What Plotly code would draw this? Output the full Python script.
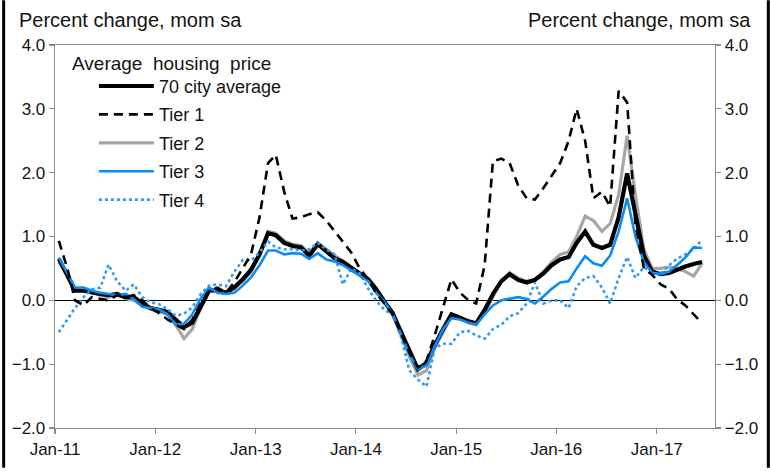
import pandas as pd
import plotly.graph_objects as go

# Monthly data, Jan-2011 .. Jun-2017 (plotted mid-month)
months = pd.date_range("2011-01-01", "2017-06-01", freq="MS") + pd.Timedelta(days=14)

avg70 = [0.65, 0.40, 0.15, 0.15, 0.12, 0.10, 0.08, 0.10, 0.05, 0.05, -0.05, -0.12,
         -0.15, -0.18, -0.30, -0.42, -0.35, -0.10, 0.15, 0.16, 0.12, 0.20, 0.33, 0.48,
         0.72, 1.05, 1.02, 0.90, 0.85, 0.83, 0.70, 0.88, 0.76, 0.66, 0.60, 0.52,
         0.42, 0.33, 0.18, -0.02, -0.20, -0.50, -0.80, -1.08, -0.98, -0.70, -0.45, -0.22,
         -0.27, -0.33, -0.36, -0.15, 0.10, 0.30, 0.41, 0.32, 0.28, 0.32, 0.42, 0.55,
         0.64, 0.68, 0.90, 1.08, 0.87, 0.82, 0.87, 1.30, 1.99, 1.35, 0.70, 0.45,
         0.41, 0.43, 0.48, 0.53, 0.57, 0.60]

tier1 = [0.93, 0.50, 0.00, -0.08, 0.05, 0.02, 0.00, 0.08, 0.05, 0.08, 0.00, -0.12,
         -0.20, -0.30, -0.38, -0.45, -0.30, -0.05, 0.15, 0.20, 0.12, 0.28, 0.50, 0.72,
         1.30, 2.15, 2.28, 1.70, 1.28, 1.30, 1.35, 1.38, 1.25, 1.08, 0.92, 0.75,
         0.50, 0.33, 0.12, -0.05, -0.22, -0.52, -0.82, -1.05, -0.95, -0.55, -0.10, 0.33,
         0.12, 0.00, -0.05, 0.55, 2.18, 2.22, 2.15, 1.80, 1.60, 1.58, 1.76, 1.95,
         2.15, 2.50, 3.00, 2.50, 1.60, 1.70, 1.47, 3.28, 3.10, 1.20, 0.50, 0.40,
         0.25, 0.18, 0.02, -0.08, -0.22, -0.36]

tier2 = [0.60, 0.42, 0.18, 0.15, 0.12, 0.08, 0.05, 0.08, 0.03, 0.00, -0.08, -0.14,
         -0.18, -0.22, -0.38, -0.60, -0.45, -0.12, 0.15, 0.16, 0.12, 0.20, 0.30, 0.45,
         0.70, 1.08, 1.05, 0.93, 0.88, 0.86, 0.74, 0.90, 0.80, 0.70, 0.62, 0.52,
         0.42, 0.32, 0.18, -0.02, -0.22, -0.55, -0.88, -1.17, -1.10, -0.75, -0.50, -0.25,
         -0.28, -0.35, -0.38, -0.20, 0.05, 0.30, 0.43, 0.35, 0.30, 0.33, 0.45, 0.60,
         0.72, 0.76, 1.00, 1.32, 1.25, 1.08, 1.20, 1.65, 2.58, 1.65, 0.80, 0.50,
         0.50, 0.52, 0.50, 0.45, 0.38, 0.58]

tier3 = [0.67, 0.42, 0.20, 0.20, 0.15, 0.12, 0.10, 0.08, 0.10, 0.02, -0.10, -0.12,
         -0.14, -0.22, -0.38, -0.37, -0.22, 0.03, 0.20, 0.12, 0.10, 0.12, 0.23, 0.36,
         0.55, 0.78, 0.78, 0.72, 0.74, 0.73, 0.65, 0.74, 0.64, 0.61, 0.55, 0.47,
         0.39, 0.30, 0.12, -0.02, -0.22, -0.55, -0.85, -1.08, -1.02, -0.72, -0.45, -0.28,
         -0.30, -0.35, -0.38, -0.22, -0.08, 0.00, 0.03, 0.05, 0.02, -0.05, 0.06, 0.18,
         0.28, 0.30, 0.50, 0.69, 0.58, 0.54, 0.70, 1.08, 1.60, 1.00, 0.60, 0.43,
         0.41, 0.45, 0.55, 0.67, 0.83, 0.82]

tier4 = [-0.50, -0.30, -0.12, 0.05, 0.17, 0.20, 0.56, 0.30, 0.15, 0.25, 0.05, -0.03,
         -0.06, -0.14, -0.24, -0.21, -0.11, 0.10, 0.23, 0.25, 0.22, 0.45, 0.63, 0.62,
         0.75, 0.92, 0.83, 0.80, 0.80, 0.78, 0.80, 0.90, 0.80, 0.72, 0.25, 0.50,
         0.42, 0.18, 0.00, -0.15, -0.22, -0.58, -1.10, -1.24, -1.35, -0.75, -0.68, -0.68,
         -0.50, -0.48, -0.55, -0.60, -0.45, -0.38, -0.25, -0.20, -0.05, 0.28, -0.05, 0.00,
         0.00, -0.12, 0.22, 0.35, 0.38, 0.20, -0.05, 0.35, 0.68, 0.35, 0.52, 0.42,
         0.42, 0.55, 0.65, 0.72, 0.80, 0.95]

y_ticks = [-2.0, -1.0, 0.0, 1.0, 2.0, 3.0, 4.0]
x_ticks = pd.date_range("2011-01-01", "2017-01-01", freq="YS")
x_tick_labels = [d.strftime("%b-%y") for d in x_ticks]

FONT = "Liberation Sans, Arial, sans-serif"
TXT = "#141414"
AX = "#8c8c8c"

L, R, T, B = 53, 55, 45, 40
W, H = 770, 471
PW, PH = W - L - R, H - T - B

fig = go.Figure()

traces = [
    ("Tier 2", tier2, dict(color="#a6a6a6", width=3.2), 3),
    ("70 city average", avg70, dict(color="#000000", width=4.2), 1),
    ("Tier 4", tier4, dict(color="#2f9cf5", width=2.6, dash="dot"), 5),
    ("Tier 3", tier3, dict(color="#0c8cf2", width=2.6), 4),
    ("Tier 1", tier1, dict(color="#000000", width=2.6, dash="9px,6px"), 2),
]
for name, vals, line, rank in traces:
    fig.add_trace(go.Scatter(x=months, y=vals, name=name, mode="lines", line=line,
                             legendrank=rank, legendgroup=name, hoverinfo="skip"))

# invisible trace to activate the right-hand axis
fig.add_trace(go.Scatter(x=months, y=avg70, yaxis="y2", mode="lines", opacity=0,
                         showlegend=False, hoverinfo="skip"))

yax = dict(range=[-2, 4], tickvals=y_ticks, tickformat=".1f", showgrid=False,
           ticks="outside", ticklen=5, tickcolor=AX, tickwidth=1.2,
           showline=True, linecolor=AX, linewidth=1.3,
           tickfont=dict(family=FONT, size=17, color=TXT), fixedrange=True)

fig.update_layout(
    width=W, height=H,
    margin=dict(l=L, r=R, t=T, b=B),
    paper_bgcolor="white", plot_bgcolor="white",
    showlegend=True,
    xaxis=dict(range=["2011-01-01", "2017-08-01"], tickvals=list(x_ticks),
               ticktext=x_tick_labels, showgrid=False, ticks="outside", ticklen=5,
               tickcolor=AX, tickwidth=1.2, showline=True, linecolor=AX, linewidth=1.3,
               mirror=True, zeroline=False,
               tickfont=dict(family=FONT, size=17, color=TXT)),
    yaxis=dict(**yax, zeroline=True, zerolinecolor="#000000", zerolinewidth=1.3),
    yaxis2=dict(**yax, overlaying="y", side="right", zeroline=False),
    legend=dict(x=(92 - L) / PW, y=1 - (68 - T) / PH, xanchor="left", yanchor="top",
                bgcolor="rgba(0,0,0,0)", borderwidth=0, itemwidth=55,
                traceorder="grouped", tracegroupgap=2,
                font=dict(family=FONT, size=18, color=TXT)),
    annotations=[
        dict(text="Percent change, mom sa", xref="paper", yref="paper",
             x=(15 - L) / PW, y=1 + (T - 20) / PH, xanchor="left", yanchor="middle",
             showarrow=False, font=dict(family=FONT, size=20, color=TXT)),
        dict(text="Percent change, mom sa", xref="paper", yref="paper",
             x=(753 - L) / PW, y=1 + (T - 20) / PH, xanchor="right", yanchor="middle",
             showarrow=False, font=dict(family=FONT, size=20, color=TXT)),
        dict(text="Average  housing  price", xref="paper", yref="paper",
             x=(68 - L) / PW, y=1 - (64 - T) / PH, xanchor="left", yanchor="middle",
             showarrow=False, font=dict(family=FONT, size=19, color=TXT)),
    ],
    shapes=[
        dict(type="line", xref="paper", yref="paper",
             x0=(1.5 - L) / PW, x1=(1.5 - L) / PW, y0=-B / PH, y1=1 + T / PH,
             line=dict(color="#000000", width=3)),
        dict(type="line", xref="paper", yref="paper",
             x0=(W - 1.5 - L) / PW, x1=(W - 1.5 - L) / PW, y0=-B / PH, y1=1 + T / PH,
             line=dict(color="#000000", width=3)),
    ],
)

fig.write_html("out.html", config={"displayModeBar": False, "staticPlot": True},
               post_script="document.body.style.margin='0';document.body.style.overflow='hidden';")
